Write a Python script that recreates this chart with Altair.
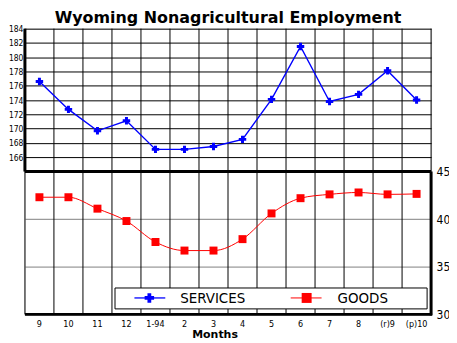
import altair as alt
import pandas as pd

# ---- data ----
months = ["9", "10", "11", "12", "1-94", "2", "3", "4", "5", "6", "7", "8", "(r)9", "(p)10"]
services = [176.6, 172.7, 169.7, 171.1, 167.1, 167.1, 167.5, 168.5, 174.1, 181.5, 173.8, 174.8, 178.1, 174.0]
goods = [42.3, 42.3, 41.1, 39.8, 37.6, 36.7, 36.7, 37.9, 40.6, 42.2, 42.6, 42.8, 42.6, 42.65]
services_ticks = [166, 168, 170, 172, 174, 176, 178, 180, 182, 184]
goods_ticks = [30, 35, 40, 45]
series_names = ["SERVICES", "GOODS"]
title_text = "Wyoming Nonagricultural Employment"
x_title = "Months"

# ---- layout / style ----
W, H = 408, 287
NARROW = "Liberation Sans Narrow, Arial Narrow, DejaVu Sans Condensed, sans-serif"
BLUE = "#0000ff"
RED = "#ff0000"

df = pd.DataFrame({"i": list(range(len(months))), "month": months,
                   "services": services, "goods": goods})
bounds = pd.DataFrame({"b": [k - 0.5 for k in range(len(months) + 1)]})
one = pd.DataFrame({"k": [0]})

xscale = alt.Scale(domain=[-0.5, len(months) - 0.5], nice=False, zero=False)
x_enc = alt.X("i:Q", scale=xscale, axis=None)

# vertical grid lines at category boundaries
vgrid = alt.Chart(bounds).mark_rule(color="black", strokeWidth=1).encode(
    x=alt.X("b:Q", scale=xscale, axis=None), y=alt.value(0), y2=alt.value(H))

s_base = alt.Chart(df)

# month labels under the plot + axis title
xlabels = alt.layer(
    s_base.mark_text(font=NARROW, fontSize=9, color="black", baseline="middle").encode(
        x=x_enc, y=alt.value(H + 10), text="month:N"),
    alt.Chart(one).mark_text(font="DejaVu Sans", fontSize=11, fontWeight="bold", color="black",
                             baseline="alphabetic", text=x_title).encode(
        x=alt.value(191), y=alt.value(H + 24)),
)

# services (upper panel)
sy = alt.Y("services:Q", scale=alt.Scale(domain=[144, 184], nice=False, zero=False),
           axis=alt.Axis(values=services_ticks, orient="left", ticks=False, domain=False,
                         grid=True, gridColor="black", gridOpacity=1, gridWidth=1,
                         labelFont=NARROW, labelFontSize=8.5, labelPadding=2,
                         labelColor="black", title=None))
services_layer = alt.layer(
    s_base.mark_line(color=BLUE, strokeWidth=1.4).encode(x=x_enc, y=sy),
    s_base.mark_point(shape="cross", filled=True, size=56, color=BLUE, opacity=1).encode(x=x_enc, y=sy),
)

# goods (lower panel)
gy = alt.Y("goods:Q", scale=alt.Scale(domain=[30, 60], nice=False, zero=False),
           axis=alt.Axis(values=goods_ticks, orient="right", ticks=False, domain=False,
                         grid=True, gridColor="#808080", gridOpacity=1, gridWidth=1,
                         labelFont=NARROW, labelFontSize=12, labelPadding=5,
                         labelColor="black", title=None))
goods_layer = alt.layer(
    s_base.mark_line(color=RED, strokeWidth=1, interpolate="monotone").encode(x=x_enc, y=gy),
    s_base.mark_square(size=64, color=RED, opacity=1).encode(x=x_enc, y=gy),
)

# panel borders
ob = alt.Chart(one)
borders = alt.layer(
    ob.mark_rule(color="black", strokeWidth=3).encode(x=alt.value(0), y=alt.value(0), y2=alt.value(H / 2)),
    ob.mark_rule(color="black", strokeWidth=3).encode(x=alt.value(0), x2=alt.value(W), y=alt.value(H / 2)),
    ob.mark_rule(color="black", strokeWidth=3).encode(x=alt.value(W), y=alt.value(H / 2), y2=alt.value(H + 1)),
    ob.mark_rule(color="black", strokeWidth=3).encode(x=alt.value(0), x2=alt.value(W + 1), y=alt.value(H)),
)

# legend
LY = H - 16.5
legend = alt.layer(
    ob.mark_rect(fill="white", stroke="black", strokeWidth=1).encode(
        x=alt.value(90.5), x2=alt.value(404), y=alt.value(H - 26.5), y2=alt.value(H - 5.5)),
    ob.mark_rule(color=BLUE, strokeWidth=1.3).encode(x=alt.value(110), x2=alt.value(141), y=alt.value(LY)),
    ob.mark_point(shape="cross", filled=True, size=90, color=BLUE, opacity=1).encode(
        x=alt.value(125), y=alt.value(LY)),
    ob.mark_text(align="left", baseline="middle", font=NARROW, fontSize=15, color="black",
                 text=series_names[0]).encode(x=alt.value(156), y=alt.value(LY)),
    ob.mark_rule(color=RED, strokeWidth=1).encode(x=alt.value(267), x2=alt.value(298), y=alt.value(LY)),
    ob.mark_square(size=100, color=RED, opacity=1).encode(x=alt.value(283), y=alt.value(LY)),
    ob.mark_text(align="left", baseline="middle", font=NARROW, fontSize=15, color="black",
                 text=series_names[1]).encode(x=alt.value(314), y=alt.value(LY)),
)

chart = alt.layer(vgrid, services_layer, goods_layer, borders, legend, xlabels).resolve_scale(
    y="independent"
).properties(
    width=W, height=H,
    title=alt.TitleParams(text=title_text, font="DejaVu Sans", fontSize=16, fontWeight="bold",
                          anchor="middle", baseline="alphabetic", offset=4, dy=18, color="black"),
    padding={"left": 17, "top": 20, "right": 18, "bottom": 28},
    autosize=alt.AutoSizeParams(type="none"),
).configure_view(stroke=None).configure(background="white")

chart.save("out.html", embed_options={"renderer": "svg", "actions": False})
